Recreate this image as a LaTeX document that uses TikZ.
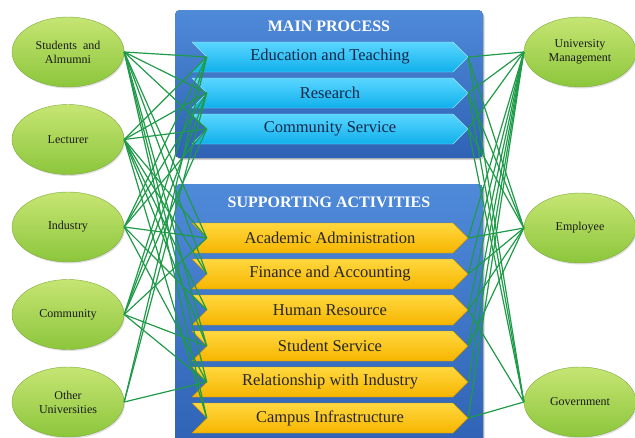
\documentclass[tikz,border=0pt]{standalone}
\usepackage{fontspec}
\setmainfont{Liberation Serif}
\usetikzlibrary{shapes.symbols, shapes.geometric, shadows}

\definecolor{leaftop}{HTML}{C6E573}
\definecolor{leafbot}{HTML}{8CC63C}
\definecolor{leafrim}{HTML}{7FAA3C}
\definecolor{paneltop}{HTML}{4F8AD9}
\definecolor{panelbot}{HTML}{2F62B4}
\definecolor{skytop}{HTML}{5AD6FF}
\definecolor{skybot}{HTML}{10B0EC}
\definecolor{suntop}{HTML}{FFD83F}
\definecolor{sunbot}{HTML}{F7B500}
\definecolor{wire}{HTML}{1E9A48}
\definecolor{navy}{HTML}{14284B}

\begin{document}
\begin{tikzpicture}[x=1pt,y=-1pt]
   \tikzstyle{person}=[ellipse,draw=leafrim,thin,top color=leaftop,bottom color=leafbot,drop shadow={opacity=0.25,shadow xshift=1pt,shadow yshift=-1.5pt},minimum width=112pt,minimum height=70pt,inner sep=0pt,align=center,text=black!90,font=\fontsize{12}{14}\selectfont]
   \tikzstyle{mainstep}=[signal,signal from=west,signal to=east,draw=skytop!60!white,top color=skytop,bottom color=skybot,minimum width=276pt,minimum height=30pt,inner sep=0pt,text=navy,font=\fontsize{16.5}{18}\selectfont]
   \tikzstyle{helpstep}=[signal,signal from=west,signal to=east,draw=sunbot!80!black,top color=suntop,bottom color=sunbot,minimum width=276pt,minimum height=30pt,inner sep=0pt,text=black!85,font=\fontsize{16.5}{18}\selectfont]
   \tikzstyle{link}=[wire,line width=1.2pt]

   \useasboundingbox (0,0) rectangle (635,437);

   % the two blue panels
   \fill[rounded corners=5pt,top color=paneltop,bottom color=panelbot,drop shadow={opacity=0.35,shadow xshift=1.5pt,shadow yshift=-2pt}] (175,10) rectangle (483,158);
   \fill[rounded corners=5pt,top color=paneltop,bottom color=panelbot,drop shadow={opacity=0.35,shadow xshift=1.5pt,shadow yshift=-2pt}] (175,184) rectangle (483,450);

   \node (18) at (329,26) [text=white,font=\fontsize{16}{18}\selectfont\bfseries] {MAIN PROCESS};
   \node (19) at (329,202) [text=white,font=\fontsize{16}{18}\selectfont\bfseries] {SUPPORTING ACTIVITIES};

   % stakeholders on the left
   \node[person] (1) at (68,52) {Students \ and\\Almumni};
   \node[person] (2) [below of=1,node distance=87.5pt] {Lecturer};
   \node[person] (3) [below of=2,node distance=87.5pt] {Industry};
   \node[person] (4) [below of=3,node distance=87.5pt] {Community};
   \node[person] (5) [below of=4,node distance=87.5pt] {Other\\Universities};

   % stakeholders on the right
   \node[person] (6) at (580,52) {University\\Management};
   \node[person] (7) at (580,228) {Employee};
   \node[person] (8) at (580,402) {Government};

   % main process
   \node[mainstep] (9) at (330,57) {Education and Teaching};
   \node[mainstep] (10) [below of=9,node distance=36pt] {Research};
   \node[mainstep] (11) [below of=10,node distance=36pt] {Community Service};

   % supporting activities
   \node[helpstep] (12) at (330,238) {Academic Administration};
   \node[helpstep] (13) [below of=12,node distance=36pt] {Finance and Accounting};
   \node[helpstep] (14) [below of=13,node distance=36pt] {Human Resource};
   \node[helpstep] (15) [below of=14,node distance=36pt] {Student Service};
   \node[helpstep] (16) [below of=15,node distance=36pt] {Relationship with Industry};
   \node[helpstep] (17) [below of=16,node distance=36pt] {Campus Infrastructure};

   % left links
   \path[link] (1.east) edge (9.west) edge (10.west) edge (11.west) edge (12.west) edge (13.west) edge (15.west) edge (16.west) edge (17.west);
   \path[link] (2.east) edge (9.west) edge (10.west) edge (11.west) edge (12.west) edge (13.west) edge (14.west) edge (15.west) edge (17.west);
   \path[link] (3.east) edge (9.west) edge (10.west) edge (11.west) edge (12.west) edge (14.west) edge (16.west);
   \path[link] (4.east) edge (9.west) edge (10.west) edge (11.west) edge (12.west) edge (15.west) edge (16.west);
   \path[link] (5.east) edge (9.west) edge (10.west) edge (16.west);

   % right links
   \path[link] (6.west) edge (9.east) edge (10.east) edge (11.east) edge (12.east) edge (13.east) edge (14.east) edge (15.east) edge (16.east) edge (17.east);
   \path[link] (7.west) edge (9.east) edge (10.east) edge (11.east) edge (12.east) edge (13.east) edge (14.east) edge (15.east);
   \path[link] (8.west) edge (9.east) edge (10.east) edge (11.east) edge (14.east) edge (17.east);
\end{tikzpicture}
\end{document}
